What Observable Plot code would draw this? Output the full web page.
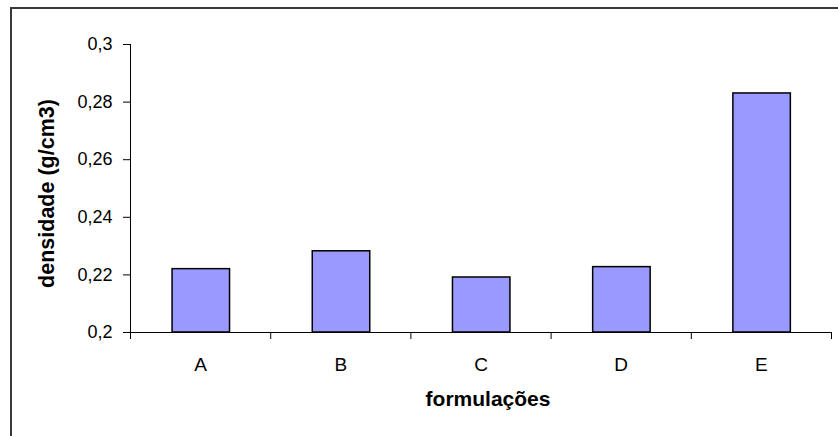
<!DOCTYPE html>
<html>
<head>
<meta charset="utf-8">
<script src="https://cdn.jsdelivr.net/npm/d3@7"></script>
<script src="https://cdn.jsdelivr.net/npm/@observablehq/plot@0.6"></script>
<style>
  html, body { margin: 0; padding: 0; background: #fff; }
  #wrap { position: relative; width: 838px; height: 436px; overflow: hidden; }
  #border { position: absolute; left: 10px; top: 7px; width: 900px; height: 500px; border: 2px solid #3a3a3a; box-sizing: border-box; }
  #chart { position: absolute; left: 0; top: 0; }
</style>
</head>
<body>
<div id="wrap"><div id="border"></div><div id="chart"></div></div>
<script>
const categories = ["A", "B", "C", "D", "E"];
const values = [0.222, 0.2282, 0.2191, 0.2227, 0.283];
const yTicks = [0.2, 0.22, 0.24, 0.26, 0.28, 0.3];
const yTickLabels = ["0,2", "0,22", "0,24", "0,26", "0,28", "0,3"];
const xTitle = "formulações";
const yTitle = "densidade (g/cm3)";

const data = categories.map((c, i) => ({cat: c, i, v: values[i]}));
const bounds = d3.range(categories.length + 1);
const centers = categories.map((c, i) => i + 0.5);

const font = "Liberation Sans, Arial, sans-serif";

const plot = Plot.plot({
  width: 838,
  height: 436,
  marginLeft: 130,
  marginRight: 7,
  marginTop: 44,
  marginBottom: 104,
  style: {fontFamily: font, background: "transparent", overflow: "visible"},
  x: {type: "linear", domain: [0, categories.length]},
  y: {domain: [0.2, 0.3]},
  marks: [
    Plot.rectY(data, {
      x1: d => d.i + 0.3,
      x2: d => d.i + 0.71,
      y1: 0.2,
      y2: "v",
      fill: "#9999ff",
      stroke: "#000",
      strokeWidth: 1.5
    }),
    Plot.ruleY([0.2], {stroke: "#000", strokeWidth: 1}),
    Plot.ruleX([0], {stroke: "#000", strokeWidth: 1}),
    Plot.axisY({
      ticks: yTicks,
      tickFormat: d => yTickLabels[yTicks.findIndex(t => Math.abs(t - d) < 1e-9)],
      tickSize: 7,
      tickPadding: 11,
      fontSize: 18,
      label: null,
      stroke: "#000",
      fill: "#000",
      style: {letterSpacing: "1px"}
    }),
    Plot.axisX({
      ticks: bounds,
      tickFormat: () => "",
      tickSize: 7,
      label: null,
      stroke: "#000"
    }),
    Plot.axisX({
      ticks: centers,
      tickFormat: d => categories[Math.floor(d)],
      tickSize: 0,
      tickPadding: 25,
      fontSize: 19,
      label: null,
      fill: "#000"
    }),
    Plot.text([xTitle], {
      frameAnchor: "bottom",
      dx: 7,
      dy: 73,
      text: d => d,
      fontSize: 21,
      fontWeight: "bold",
      fill: "#000"
    }),
    Plot.text([yTitle], {
      frameAnchor: "left",
      textAnchor: "middle",
      rotate: -90,
      dx: -83,
      dy: 5,
      text: d => d,
      fontSize: 21.5,
      fontWeight: "bold",
      fill: "#000"
    })
  ]
});
document.getElementById("chart").appendChild(plot);
</script>
</body>
</html>
